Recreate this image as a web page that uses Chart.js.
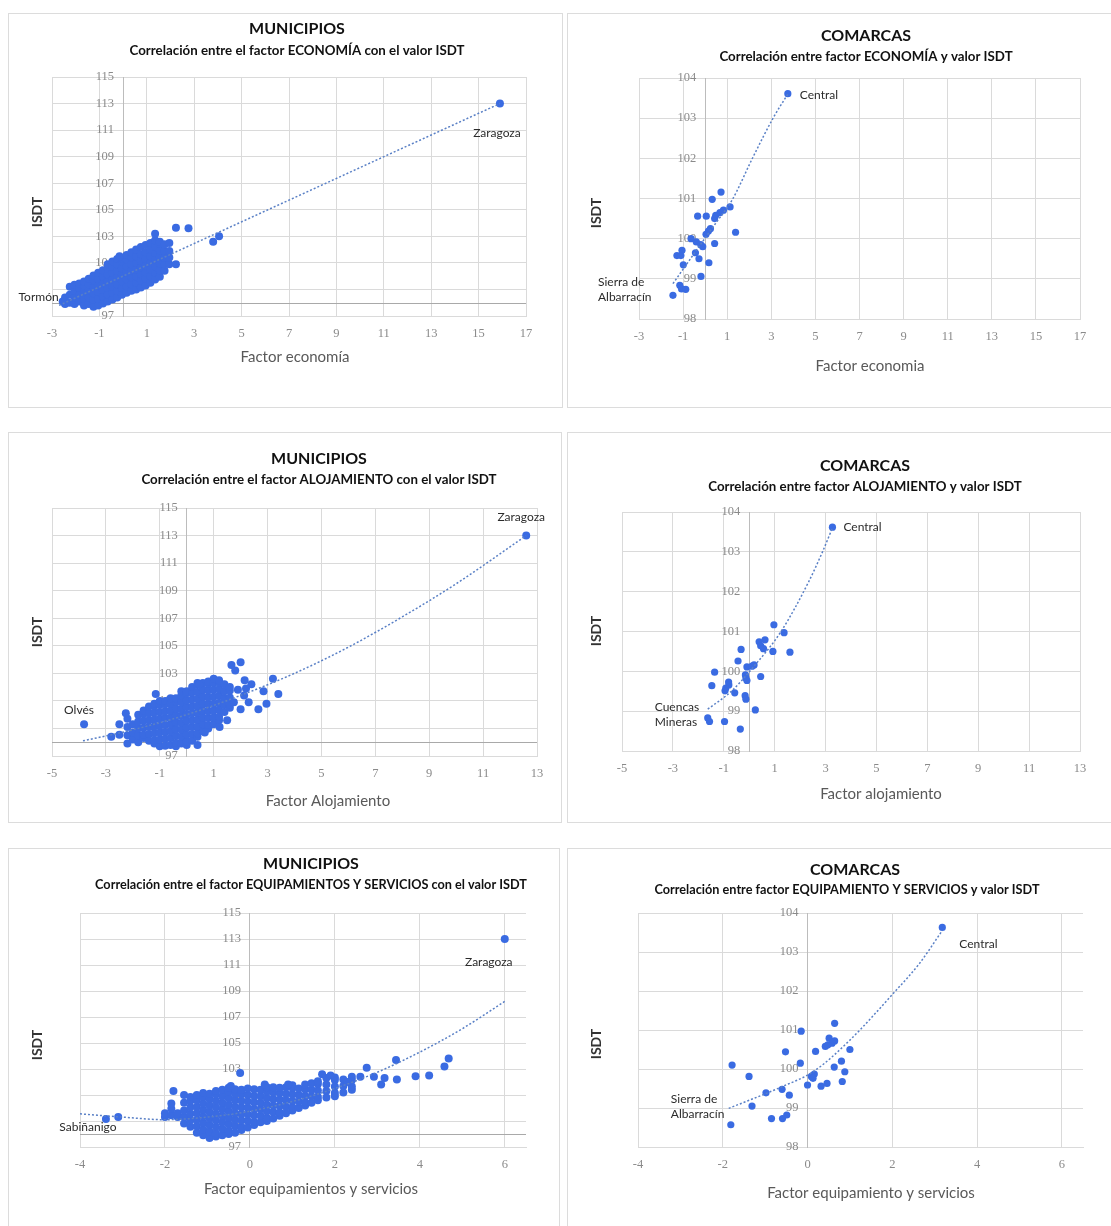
<!DOCTYPE html>
<html lang="es">
<head>
<meta charset="utf-8">
<title>Correlación de factores con el ISDT</title>
<script src="https://cdn.jsdelivr.net/npm/chart.js@4.4.1/dist/chart.umd.min.js"></script>
<style>
  html, body { margin: 0; padding: 0; background: #fff; }
  body { width: 1111px; height: 1226px; position: relative; overflow: hidden; }
  .panel { position: absolute; background: #fff; box-shadow: inset 0 0 0 1px #dcdcdc; }
  .panel canvas { position: absolute; left: 0; top: 0; }
</style>
</head>
<body>
<script>
// ---- Datos: municipios, factor economía (columnas [x, y1, y2, ...]) ----
const muniEconomiaDestacados = [[15.9, 113.0], [-2.55, 98.1]]; // Zaragoza, Tormón
const muniEconomiaNube = [
  [-2.45, 98.4, 97.9], [-2.25, 98.0, 98.6, 99.2], [-2.05, 97.9, 98.4, 98.9, 99.35],
  [-1.85, 98.1, 98.6, 99.1, 99.45], [-1.65, 97.8, 98.3, 98.8, 99.3, 99.6],
  [-1.45, 97.9, 98.4, 98.9, 99.4, 99.8], [-1.25, 97.7, 98.2, 98.7, 99.2, 99.7, 100.05],
  [-1.05, 97.8, 98.3, 98.8, 99.3, 99.8, 100.25], [-0.85, 97.95, 98.45, 98.95, 99.45, 99.95, 100.45],
  [-0.65, 98.1, 98.6, 99.1, 99.6, 100.1, 100.6, 100.9], [-0.45, 98.25, 98.75, 99.25, 99.75, 100.25, 100.75, 101.1],
  [-0.25, 98.4, 98.9, 99.4, 99.9, 100.4, 100.9, 101.3], [-0.05, 98.6, 99.1, 99.6, 100.1, 100.6, 101.1, 101.35],
  [0.15, 98.75, 99.25, 99.75, 100.25, 100.75, 101.25, 101.6], [0.35, 98.9, 99.4, 99.9, 100.4, 100.9, 101.4, 101.8],
  [0.55, 99.0, 99.5, 100.0, 100.5, 101.0, 101.5, 102.0], [0.75, 99.15, 99.65, 100.15, 100.65, 101.15, 101.65, 102.2],
  [0.95, 99.3, 99.8, 100.3, 100.8, 101.3, 101.8, 102.35], [1.15, 99.5, 100.0, 100.5, 101.0, 101.5, 102.0, 102.5],
  [1.35, 99.75, 100.25, 100.75, 101.25, 101.75, 102.25, 102.7], [1.55, 99.95, 100.45, 100.95, 101.45, 101.95, 102.45, 102.6],
  [1.75, 100.4, 100.9, 101.4, 101.9, 102.4], [1.95, 100.9, 101.4, 101.9, 102.5]
];
const muniEconomiaSueltos = [[1.35, 103.2], [2.23, 103.65], [2.76, 103.6], [3.8, 102.6], [4.05, 103.0], [2.23, 100.9], [-0.15, 101.5]];
const tendMuniEconomia = [[-2.7, 97.8], [15.9, 113.0]];

// ---- Datos: comarcas, factor economía ----
const comEconomia = [
  [3.75, 103.61], [-1.46, 98.59], // Central, Sierra de Albarracín
  [0.72, 101.16], [0.32, 100.98], [1.13, 100.79], [0.83, 100.71], [0.67, 100.65], [0.48, 100.58],
  [0.43, 100.5], [0.05, 100.56], [-0.34, 100.56], [1.38, 100.16], [0.24, 100.25], [0.15, 100.19],
  [0.04, 100.11], [0.43, 99.88], [-0.64, 100.0], [-0.4, 99.92], [-0.2, 99.85], [-0.11, 99.8],
  [-1.05, 99.71], [-1.28, 99.58], [-1.1, 99.58], [-0.44, 99.65], [-0.28, 99.5], [-0.99, 99.35],
  [0.17, 99.4], [-0.19, 99.06], [-1.15, 98.84], [-1.07, 98.75], [-0.88, 98.74]
];
const tendComEconomia = [[-1.46, 98.88], [-0.5, 99.63], [0.5, 100.4], [1.22, 100.96], [2.17, 102.03], [3.11, 103.03], [3.75, 103.6]];

// ---- Datos: municipios, factor alojamiento ----
const muniAlojamientoDestacados = [[12.6, 113.0], [-3.81, 99.3]]; // Zaragoza, Olvés
const muniAlojamientoNube = [
  [-2.2, 97.9, 98.5, 99.1, 99.7], [-2.0, 98.2, 98.7, 99.3], [-1.8, 98.0, 98.5, 99.0, 99.5, 100.0],
  [-1.6, 98.3, 98.55, 99.05, 99.55, 100.05, 100.3], [-1.4, 98.1, 98.6, 99.1, 99.6, 100.1, 100.6],
  [-1.2, 97.9, 98.15, 98.65, 99.15, 99.65, 100.15, 100.65, 100.8],
  [-1.0, 97.7, 98.2, 98.7, 99.2, 99.7, 100.2, 100.7, 101.0],
  [-0.8, 97.75, 98.25, 98.75, 99.25, 99.75, 100.25, 100.75, 101.0],
  [-0.6, 97.8, 98.3, 98.8, 99.3, 99.8, 100.3, 100.8, 101.2],
  [-0.4, 97.7, 97.95, 98.45, 98.95, 99.45, 99.95, 100.45, 100.95, 101.2],
  [-0.2, 97.9, 98.4, 98.9, 99.4, 99.9, 100.4, 100.9, 101.4, 101.7],
  [0.0, 97.8, 98.05, 98.55, 99.05, 99.55, 100.05, 100.55, 101.05, 101.55, 101.7],
  [0.2, 98.1, 98.6, 99.1, 99.6, 100.1, 100.6, 101.1, 101.6, 102.0],
  [0.4, 98.4, 98.65, 99.15, 99.65, 100.15, 100.65, 101.15, 101.65, 102.15, 102.3],
  [0.6, 98.8, 99.3, 99.8, 100.3, 100.8, 101.3, 101.8, 102.3],
  [0.8, 99.0, 99.25, 99.75, 100.25, 100.75, 101.25, 101.75, 102.25, 102.4],
  [1.0, 99.3, 99.8, 100.3, 100.8, 101.3, 101.8, 102.3, 102.6],
  [1.2, 99.6, 99.85, 100.35, 100.85, 101.35, 101.85, 102.35, 102.5],
  [1.4, 100.2, 100.7, 101.2, 101.7, 102.2],
  [1.6, 100.5, 100.75, 101.25, 101.75, 102.0]
];
const muniAlojamientoSueltos = [
  [-2.8, 98.4], [-2.5, 98.55], [-2.5, 99.3], [-2.26, 100.1], [1.66, 103.6], [2.0, 103.8], [1.8, 103.2],
  [2.15, 102.5], [2.4, 102.2], [3.2, 102.6], [3.4, 101.5], [2.85, 101.7], [2.96, 100.8], [2.66, 100.4],
  [2.0, 100.4], [2.3, 100.9], [2.13, 101.4], [1.22, 99.1], [1.5, 99.6], [0.67, 98.7], [0.4, 97.8],
  [-1.15, 101.5], [0.47, 102.2], [1.9, 101.8], [2.2, 101.9], [1.75, 100.9]
];
const tendMuniAlojamiento = [[-3.85, 98.1], [-2, 98.9], [0, 100.0], [2, 101.4], [4, 103.0], [6, 104.9], [8, 107.1], [10, 109.5], [12.6, 113.0]];

// ---- Datos: comarcas, factor alojamiento ----
const comAlojamiento = [
  [3.27, 103.62], [-1.63, 98.83], // Central, Cuencas Mineras
  [0.97, 101.17], [1.37, 100.97], [0.62, 100.79], [0.39, 100.74], [0.45, 100.64], [0.56, 100.57],
  [0.93, 100.5], [1.6, 100.48], [-0.32, 100.55], [-0.44, 100.26], [-0.09, 100.11], [0.19, 100.16],
  [0.11, 100.13], [-1.36, 99.98], [-0.15, 99.91], [0.45, 99.87], [-0.13, 99.83], [-0.09, 99.77],
  [-1.47, 99.64], [-0.8, 99.66], [-0.92, 99.58], [-0.95, 99.51], [-0.57, 99.46], [-0.16, 99.39],
  [-0.13, 99.3], [0.24, 99.03], [-1.56, 98.74], [-0.97, 98.74], [-0.35, 98.55], [-0.81, 99.73]
];
const tendComAlojamiento = [[-1.63, 99.05], [-0.7, 99.5], [0.15, 100.1], [1.24, 100.99], [2.33, 102.24], [2.88, 103.0], [3.27, 103.6]];

// ---- Datos: municipios, factor equipamientos y servicios ----
const muniEquipDestacados = [[6.0, 113.0], [-3.39, 99.15]]; // Zaragoza, Sabiñánigo
const muniEquipNube = [
  [-2.0, 99.3, 99.6], [-1.85, 99.45, 99.95, 100.35], [-1.7, 99.3, 99.6],
  [-1.55, 98.8, 99.3, 99.8, 100.4, 101.0], [-1.4, 98.55, 99.05, 99.55, 100.05, 100.55, 100.85],
  [-1.25, 98.1, 98.6, 99.1, 99.6, 100.1, 100.6, 101.0],
  [-1.1, 97.9, 98.35, 98.85, 99.35, 99.85, 100.35, 100.85, 101.15],
  [-0.95, 97.7, 98.2, 98.7, 99.2, 99.7, 100.2, 100.7, 101.1],
  [-0.8, 97.8, 98.05, 98.55, 99.05, 99.55, 100.05, 100.55, 101.05, 101.3],
  [-0.65, 97.9, 98.4, 98.9, 99.4, 99.9, 100.4, 100.9, 101.4],
  [-0.5, 98.0, 98.25, 98.75, 99.25, 99.75, 100.25, 100.75, 101.25, 101.55],
  [-0.35, 98.1, 98.6, 99.1, 99.6, 100.1, 100.6, 101.1, 101.45],
  [-0.2, 98.3, 98.55, 99.05, 99.55, 100.05, 100.55, 101.05, 101.4],
  [-0.05, 98.5, 99.0, 99.5, 100.0, 100.5, 101.0, 101.5],
  [0.1, 98.7, 98.95, 99.45, 99.95, 100.45, 100.95, 101.45],
  [0.25, 98.9, 99.4, 99.9, 100.4, 100.9, 101.4],
  [0.4, 99.0, 99.25, 99.75, 100.25, 100.75, 101.25, 101.6],
  [0.55, 99.2, 99.7, 100.2, 100.7, 101.2, 101.6],
  [0.7, 99.4, 99.65, 100.15, 100.65, 101.15, 101.55],
  [0.85, 99.6, 100.1, 100.6, 101.1, 101.6],
  [1.0, 99.8, 100.05, 100.55, 101.05, 101.55, 101.75],
  [1.15, 100.0, 100.5, 101.0, 101.5],
  [1.3, 100.2, 100.45, 100.95, 101.45, 101.8],
  [1.45, 100.4, 100.9, 101.4, 101.9],
  [1.6, 100.6, 100.85, 101.35, 101.85, 102.05],
  [1.8, 100.8, 101.3, 101.8, 102.3],
  [2.0, 100.9, 101.15, 101.65, 102.15, 102.35],
  [2.2, 101.2, 101.7, 102.2],
  [2.4, 101.4, 101.65, 102.15, 102.4]
];
const muniEquipSueltos = [
  [-3.1, 99.3], [-1.8, 101.3], [-0.23, 102.7], [1.7, 102.6], [2.6, 102.4], [2.75, 103.1], [2.92, 102.4],
  [3.09, 101.8], [3.17, 102.3], [3.44, 103.7], [3.46, 102.2], [3.9, 102.45], [4.22, 102.5], [4.58, 103.2],
  [4.68, 103.8], [-0.45, 101.7], [0.35, 101.8], [0.9, 101.8], [1.9, 102.5], [2.3, 102.0]
];
const tendMuniEquip = [[-4, 99.55], [-3, 99.3], [-2, 99.1], [-1, 99.3], [0, 99.75], [1, 100.5], [2, 101.5], [3, 102.75], [4, 104.3], [5, 106.1], [6, 108.2]];

// ---- Datos: comarcas, factor equipamiento y servicios ----
const comEquip = [
  [3.18, 103.63], [-1.81, 98.57], // Central, Sierra de Albarracín
  [0.64, 101.17], [-0.15, 100.97], [0.51, 100.79], [0.64, 100.72], [0.58, 100.66], [0.42, 100.58],
  [0.48, 100.62], [1.0, 100.5], [0.19, 100.45], [-0.52, 100.44], [-0.17, 100.15], [0.8, 100.2],
  [-1.78, 100.1], [0.63, 100.05], [0.88, 99.93], [-1.38, 99.81], [0.16, 99.87], [0.09, 99.81],
  [0.13, 99.76], [0.0, 99.59], [0.32, 99.56], [0.46, 99.63], [0.82, 99.68], [-0.6, 99.48],
  [-0.98, 99.39], [-0.43, 99.33], [-1.31, 99.05], [-0.85, 98.73], [-0.59, 98.73], [-0.49, 98.82]
];
const tendComEquip = [[-1.86, 98.99], [-0.66, 99.52], [0.16, 99.95], [0.98, 100.72], [2.05, 101.97], [2.63, 102.69], [3.18, 103.55]];

// ---- Estilos ----
const AZUL_PUNTO = '#3a6be2';
const AZUL_TEND = '#5a80c6';
const GRIS_REJILLA = '#dadada';
const GRIS_EJE = '#bcbcbc';
const GRIS_TICKS = '#8a8a8a';
const FUENTE = 'Lato, "Open Sans", sans-serif';
const FUENTE_TICKS = '"Liberation Serif", "DejaVu Serif", serif';
const TAM_TICKS = 12.5;
const PAD_TICKS_X = 10;
// Chart.js reserva el padding de las etiquetas dos veces en el eje horizontal
const ALTO_EJE_X = 2 * PAD_TICKS_X + TAM_TICKS * 1.2;

function columnas(cols) {
  const out = [];
  cols.forEach(c => c.slice(1).forEach(y => out.push([c[0], y])));
  return out;
}
function pares(lista) {
  return lista.map(p => ({ x: p[0], y: p[1] }));
}

// Geometría de cada panel en coordenadas de página: caja [L, T, W, H], área [izq, arriba, der, abajo]
const paneles = [
  {
    caja: [8, 13, 555, 395], area: [52, 77, 526, 316],
    ejeX: [-3, 17, 2], ejeY: [97, 115, 2], base: 98, radio: 4,
    titulo: ['MUNICIPIOS', 297, 29], subtitulo: ['Correlación entre el factor ECONOMÍA con el valor ISDT', 297, 51, 13.3],
    isdt: [37, 212], tituloX: ['Factor economía', 295, 357],
    puntos: [...muniEconomiaDestacados, ...columnas(muniEconomiaNube), ...muniEconomiaSueltos],
    tendencia: tendMuniEconomia,
    etiquetas: [
      { i: 0, texto: ['Zaragoza'], dx: -3, dy: 30, align: 'center' },
      { i: 1, texto: ['Tormón'], dx: -4, dy: -4, align: 'right' }
    ]
  },
  {
    caja: [567, 13, 546, 395], area: [639, 78, 1080, 319],
    ejeX: [-3, 17, 2], ejeY: [98, 104, 1], radio: 3.6,
    titulo: ['COMARCAS', 866, 36], subtitulo: ['Correlación entre factor ECONOMÍA y valor ISDT', 866, 57, 13.3],
    isdt: [596, 213], tituloX: ['Factor economia', 870, 366],
    puntos: comEconomia, tendencia: tendComEconomia,
    etiquetas: [
      { i: 0, texto: ['Central'], dx: 12, dy: 1, align: 'left' },
      { i: 1, texto: ['Sierra de', 'Albarracín'], dx: -75, dy: -13, align: 'left' }
    ]
  },
  {
    caja: [8, 432, 554, 391], area: [52, 508, 537, 756],
    ejeX: [-5, 13, 2], ejeY: [97, 115, 2], base: 98, radio: 4,
    titulo: ['MUNICIPIOS', 319, 459], subtitulo: ['Correlación entre el factor ALOJAMIENTO con el valor ISDT', 319, 480, 13.3],
    isdt: [37, 632], tituloX: ['Factor Alojamiento', 328, 801],
    puntos: [...muniAlojamientoDestacados, ...columnas(muniAlojamientoNube), ...muniAlojamientoSueltos],
    tendencia: tendMuniAlojamiento,
    etiquetas: [
      { i: 0, texto: ['Zaragoza'], dx: -5, dy: -18, align: 'center' },
      { i: 1, texto: ['Olvés'], dx: -5, dy: -14, align: 'center' }
    ]
  },
  {
    caja: [567, 432, 546, 391], area: [622, 512, 1080, 751],
    ejeX: [-5, 13, 2], ejeY: [98, 104, 1], radio: 3.6,
    titulo: ['COMARCAS', 865, 466], subtitulo: ['Correlación entre factor ALOJAMIENTO y valor ISDT', 865, 487, 13.3],
    isdt: [596, 631], tituloX: ['Factor alojamiento', 881, 794],
    puntos: comAlojamiento, tendencia: tendComAlojamiento,
    etiquetas: [
      { i: 0, texto: ['Central'], dx: 11, dy: 0, align: 'left' },
      { i: 1, texto: ['Cuencas', 'Mineras'], dx: -53, dy: -11, align: 'left' }
    ]
  },
  {
    caja: [8, 848, 552, 380], area: [80, 913, 526, 1147],
    ejeX: [-4, 6.5, 2], ejeY: [97, 115, 2], base: 98, radio: 4,
    titulo: ['MUNICIPIOS', 311, 864], subtitulo: ['Correlación entre el factor EQUIPAMIENTOS Y SERVICIOS con el valor ISDT', 311, 885, 12.7],
    isdt: [37, 1045], tituloX: ['Factor equipamientos y servicios', 311, 1189],
    puntos: [...muniEquipDestacados, ...columnas(muniEquipNube), ...muniEquipSueltos],
    tendencia: tendMuniEquip,
    etiquetas: [
      { i: 0, texto: ['Zaragoza'], dx: -16, dy: 23, align: 'center' },
      { i: 1, texto: ['Sabiñanigo'], dx: -18, dy: 8, align: 'center' }
    ]
  },
  {
    caja: [567, 848, 546, 380], area: [638, 913, 1083, 1147],
    ejeX: [-4, 6.5, 2], ejeY: [98, 104, 1], radio: 3.6,
    titulo: ['COMARCAS', 855, 870], subtitulo: ['Correlación entre factor EQUIPAMIENTO Y SERVICIOS y valor ISDT', 847, 890, 12.7],
    isdt: [596, 1044], tituloX: ['Factor equipamiento y servicios', 871, 1193],
    puntos: comEquip, tendencia: tendComEquip,
    etiquetas: [
      { i: 0, texto: ['Central'], dx: 17, dy: 17, align: 'left' },
      { i: 1, texto: ['Sierra de', 'Albarracín'], dx: -60, dy: -26, align: 'left' }
    ]
  }
];

function crearGrafico(p) {
  const [L, T, W, H] = p.caja;
  const [aL, aT, aR, aB] = p.area;

  const div = document.createElement('div');
  div.className = 'panel';
  Object.assign(div.style, { left: L + 'px', top: T + 'px', width: W + 'px', height: H + 'px' });
  const canvas = document.createElement('canvas');
  canvas.width = W;
  canvas.height = H;
  div.appendChild(canvas);
  document.body.appendChild(div);

  // textos fijos del panel (títulos y rótulos de ejes)
  const textosPanel = {
    id: 'textosPanel',
    afterDraw(chart) {
      const ctx = chart.ctx;
      const escribe = (txt, x, y, font, color, rot) => {
        ctx.save();
        ctx.font = font;
        ctx.fillStyle = color;
        ctx.textAlign = 'center';
        ctx.textBaseline = 'middle';
        ctx.translate(x - L, y - T);
        if (rot) ctx.rotate(rot);
        ctx.fillText(txt, 0, 0);
        ctx.restore();
      };
      escribe(p.titulo[0], p.titulo[1], p.titulo[2], 'bold 16px ' + FUENTE, '#111');
      escribe(p.subtitulo[0], p.subtitulo[1], p.subtitulo[2], 'bold ' + p.subtitulo[3] + 'px ' + FUENTE, '#111');
      escribe('ISDT', p.isdt[0], p.isdt[1], 'bold 14px ' + FUENTE, '#333', -Math.PI / 2);
      escribe(p.tituloX[0], p.tituloX[1], p.tituloX[2], '15px ' + FUENTE, '#595959');
    }
  };

  // línea del eje horizontal en ISDT = 98 (municipios) y etiquetas del eje Y junto a x = 0
  const ejeCruzado = {
    id: 'ejeCruzado',
    beforeDatasetsDraw(chart) {
      const { ctx, chartArea } = chart;
      const sx = chart.scales.x;
      const sy = chart.scales.y;
      ctx.save();
      if (p.base !== undefined) {
        const y = Math.round(sy.getPixelForValue(p.base)) + 0.5;
        ctx.strokeStyle = '#a9a9a9';
        ctx.lineWidth = 1;
        ctx.beginPath();
        ctx.moveTo(chartArea.left, y);
        ctx.lineTo(chartArea.right, y);
        ctx.stroke();
      }
      const x0 = sx.getPixelForValue(0) - 9;
      ctx.font = TAM_TICKS + 'px ' + FUENTE_TICKS;
      ctx.fillStyle = GRIS_TICKS;
      ctx.textAlign = 'right';
      ctx.textBaseline = 'middle';
      sy.ticks.forEach(t => ctx.fillText(t.label ?? String(t.value), x0, sy.getPixelForValue(t.value)));
      ctx.restore();
    }
  };

  // nombres junto a los puntos destacados
  const etiquetasPuntos = {
    id: 'etiquetasPuntos',
    afterDatasetsDraw(chart) {
      const ctx = chart.ctx;
      const meta = chart.getDatasetMeta(1);
      ctx.save();
      ctx.font = '12px ' + FUENTE;
      ctx.fillStyle = '#2b2b2b';
      ctx.textBaseline = 'middle';
      p.etiquetas.forEach(e => {
        const el = meta.data[e.i];
        ctx.textAlign = e.align;
        e.texto.forEach((linea, k) => ctx.fillText(linea, el.x + e.dx, el.y + e.dy + k * 15));
      });
      ctx.restore();
    }
  };

  new Chart(canvas.getContext('2d'), {
    type: 'scatter',
    data: {
      datasets: [
        {
          type: 'line',
          data: pares(p.tendencia),
          borderColor: AZUL_TEND,
          borderWidth: 1.5,
          borderDash: [2, 2],
          pointRadius: 0,
          fill: false,
          cubicInterpolationMode: 'monotone'
        },
        {
          data: pares(p.puntos),
          backgroundColor: AZUL_PUNTO,
          borderWidth: 0,
          pointRadius: p.radio,
          pointHoverRadius: p.radio
        }
      ]
    },
    options: {
      responsive: false,
      animation: false,
      events: [],
      layout: {
        padding: { left: aL - L, right: L + W - aR, top: aT - T, bottom: T + H - aB - ALTO_EJE_X }
      },
      plugins: { legend: { display: false }, tooltip: { enabled: false } },
      scales: {
        x: {
          type: 'linear',
          position: 'bottom',
          min: p.ejeX[0],
          max: p.ejeX[1],
          ticks: {
            stepSize: p.ejeX[2], includeBounds: false, padding: PAD_TICKS_X, autoSkip: false, maxRotation: 0,
            color: GRIS_TICKS, font: { family: FUENTE_TICKS, size: TAM_TICKS }
          },
          grid: { color: GRIS_REJILLA, drawTicks: false },
          border: { color: GRIS_REJILLA }
        },
        y: {
          type: 'linear',
          position: { x: 0 },
          min: p.ejeY[0],
          max: p.ejeY[1],
          ticks: { stepSize: p.ejeY[2], display: false },
          grid: { color: GRIS_REJILLA, drawTicks: false },
          border: { color: GRIS_EJE }
        }
      }
    },
    plugins: [ejeCruzado, etiquetasPuntos, textosPanel]
  });
}

paneles.forEach(crearGrafico);
</script>
</body>
</html>
